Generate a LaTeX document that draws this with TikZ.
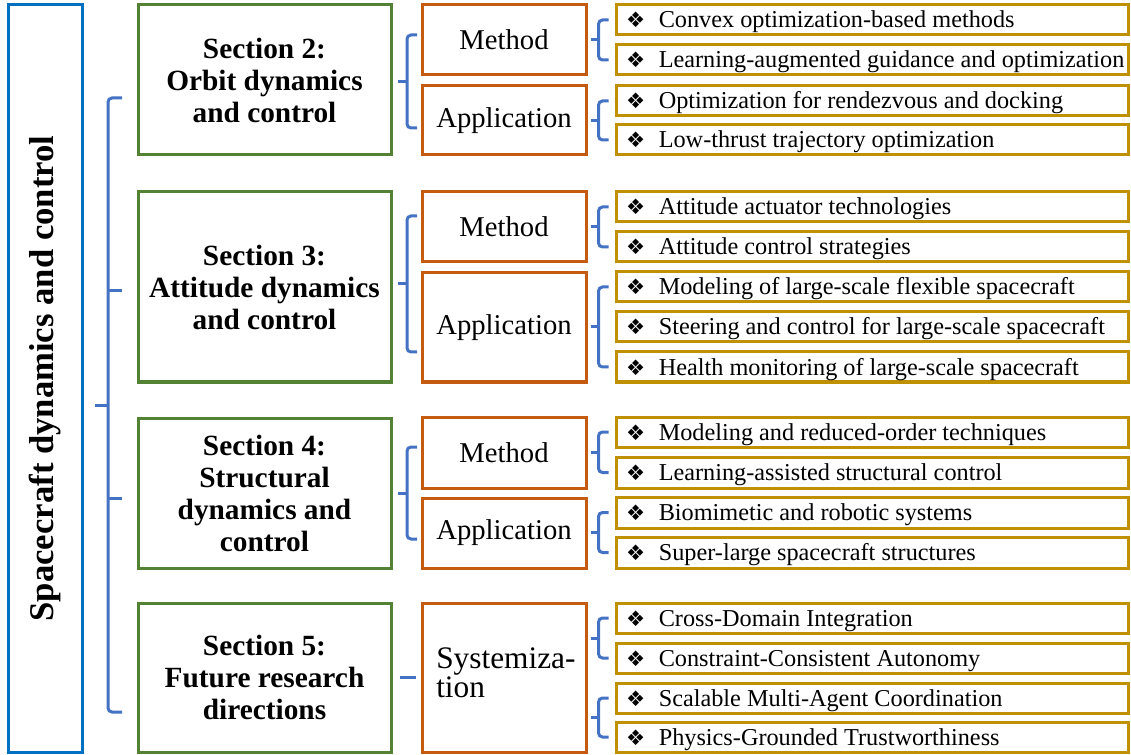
\documentclass[tikz,border=0pt]{standalone}
\usepackage{fontspec}
\setmainfont{Liberation Serif}
\newfontfamily\symfont{DejaVu Sans}
\usetikzlibrary{fit,calc}
\definecolor{cblue}{HTML}{0070C0}
\definecolor{cbrace}{HTML}{4472C4}
\definecolor{cgreen}{HTML}{548235}
\definecolor{corange}{HTML}{C55A11}
\definecolor{cgold}{HTML}{BF9000}
\tikzset{
  box/.style={draw, line width=2.25pt, inner sep=0pt},
  mainbox/.style={box, draw=cblue},
  secbox/.style={box, draw=cgreen},
  catbox/.style={box, draw=corange},
  itembox/.style={box, draw=cgold},
  mainboxtxt/.style={rotate=90, inner sep=0pt, font=\bfseries\fontsize{26}{28}\selectfont},
  secboxtxt/.style={inner sep=0pt, font=\bfseries\fontsize{22}{24}\selectfont, align=center},
  catboxtxt/.style={inner sep=0pt, font=\fontsize{21.5}{20}\selectfont, align=center},
  itemtext/.style={anchor=base west, inner sep=0pt, font=\fontsize{18.2}{20}\selectfont},
  brace/.style={draw=cbrace, line width=2.25pt, rounded corners=3pt},
  bracetick/.style={draw=cbrace, line width=2.25pt},
}
\newcommand\bx[7]{%
  \node[#1, fit={(#3,#4)(#5,#6)}] (#2) {};
  \node[#1txt] (#2t) at (#2.center) {#7};}
\newcommand\itm[4]{%
  \node[itembox, fit={(616,#2)(1128,#3)}] (#1) {};
  \node[itemtext] (#1t) at ([xshift=8.5pt,yshift=-6pt]#1.west) {\makebox[24.5pt][l]{\symfont\fontsize{16}{16}\selectfont ❖}#4};}
\newcommand\ibrace[2]{%
  \draw[brace] ([xshift=-4.5pt]#1.west) -- ++(-10,0) |- ([xshift=-4.5pt]#2.west);
  \draw[bracetick] ($(#1.west)!0.5!(#2.west)+(-16,0)$) -- ++(-8,0);}
\begin{document}
\begin{tikzpicture}[x=0.75pt,y=-0.75pt]
\useasboundingbox (0,0) rectangle (1131,755);
% main box
\bx{mainbox}{main}{8}{5}{82}{752}{Spacecraft dynamics and control}
% sections
\bx{secbox}{s2}{138}{5}{391}{155}{Section 2:\\Orbit dynamics\\and control}
\bx{secbox}{s3}{138}{192}{391}{382}{Section 3:\\Attitude dynamics\\and control}
\bx{secbox}{s4}{138}{418}{391}{568}{Section 4:\\Structural\\dynamics and\\control}
\bx{secbox}{s5}{138}{603}{391}{752}{Section 5:\\Future research\\directions}
% categories
\bx{catbox}{m2}{422}{5}{586}{75}{Method}
\bx{catbox}{a2}{422}{86}{586}{155}{Application}
\bx{catbox}{m3}{422}{192}{586}{262}{Method}
\bx{catbox}{a3}{422}{273}{586}{382}{Application}
\bx{catbox}{m4}{422}{417}{586}{488}{Method}
\bx{catbox}{a4}{422}{498}{586}{568}{Application}
\node[catbox, fit={(422,603)(586,752)}] (c5) {};
\node[anchor=west, inner sep=0pt, align=left, font=\fontsize{23.5}{19}\selectfont] (c5t) at (436,673) {Systemiza-\\tion};
% items
\itm{r1}{5}{35}{Convex optimization-based methods}
\itm{r2}{45}{75}{Learning-augmented guidance and optimization}
\itm{r3}{86}{116}{Optimization for rendezvous and docking}
\itm{r4}{125}{155}{Low-thrust trajectory optimization}
\itm{r5}{192}{222}{Attitude actuator technologies}
\itm{r6}{232}{262}{Attitude control strategies}
\itm{r7}{272}{302}{Modeling of large-scale flexible spacecraft}
\itm{r8}{312}{342}{Steering and control for large-scale spacecraft}
\itm{r9}{352}{382}{Health monitoring of large-scale spacecraft}
\itm{r10}{417}{447}{Modeling and reduced-order techniques}
\itm{r11}{457}{488}{Learning-assisted structural control}
\itm{r12}{497}{528}{Biomimetic and robotic systems}
\itm{r13}{537}{568}{Super-large spacecraft structures}
\itm{r14}{603}{633}{Cross-Domain Integration}
\itm{r15}{643}{673}{Constraint-Consistent Autonomy}
\itm{r16}{683}{713}{Scalable Multi-Agent Coordination}
\itm{r17}{722}{752}{Physics-Grounded Trustworthiness}
% braces category -> items
\ibrace{r1}{r2}
\ibrace{r3}{r4}
\ibrace{r5}{r6}
\ibrace{r7}{r9}
\ibrace{r10}{r11}
\ibrace{r12}{r13}
\ibrace{r14}{r15}
\ibrace{r16}{r17}
% braces section -> categories
\coordinate (g2t) at (417,35);  \coordinate (g2b) at (417,128); \coordinate (g2m) at (407,82);
\coordinate (g3t) at (417,216); \coordinate (g3b) at (417,352); \coordinate (g3m) at (407,284);
\coordinate (g4t) at (417,447); \coordinate (g4b) at (417,539); \coordinate (g4m) at (407,493);
\draw[brace] (g2t) -- ++(-10,0) |- (g2b);
\draw[bracetick] (g2m) -- ++(-9,0);
\draw[brace] (g3t) -- ++(-10,0) |- (g3b);
\draw[bracetick] (g3m) -- ++(-9,0);
\draw[brace] (g4t) -- ++(-10,0) |- (g4b);
\draw[bracetick] (g4m) -- ++(-9,0);
\draw[bracetick] ($(s5.east)+(7,0)$) -- ($(c5.west)+(-5,0)$);
% big brace
\coordinate (bt) at (122,98); \coordinate (bb) at (122,712);
\draw[brace] (bt) -- ++(-14,0) |- (bb);
\draw[bracetick] (108,291) -- (122,291);
\draw[bracetick] (108,498) -- (122,498);
\draw[bracetick] (108,405) -- (95,405);
\end{tikzpicture}
\end{document}
